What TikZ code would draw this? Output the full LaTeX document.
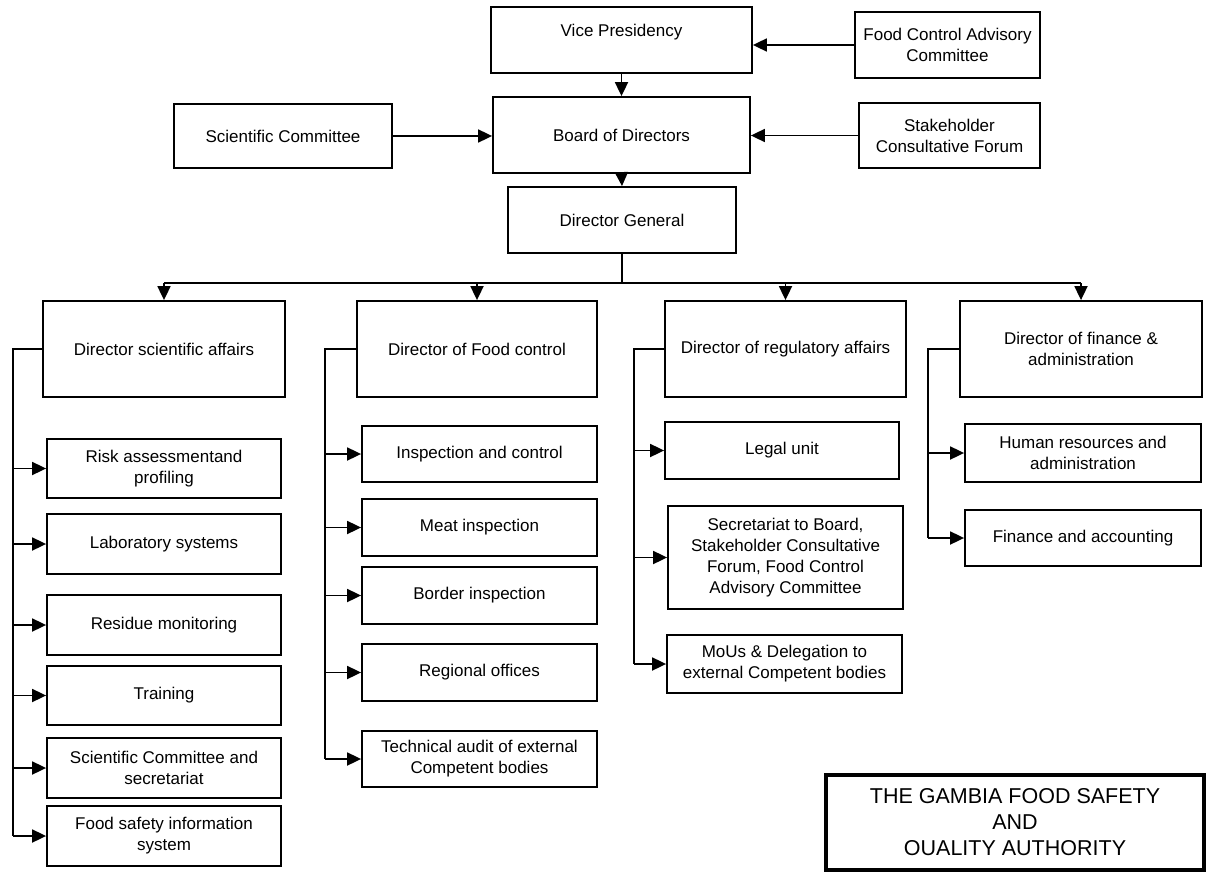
\documentclass[tikz,border=0pt]{standalone}
\usepackage{fontspec}
\setmainfont{Liberation Sans}
\usetikzlibrary{arrows.meta}
\tikzset{
  box/.style={draw, line width=1.8pt, fill=white, align=center, inner sep=0pt,
    font=\fontsize{17}{21}\selectfont},
  con/.style={line width=1.8pt},
  arr/.style={con, -{Triangle[length=14pt,width=13pt]}},
  titlebox/.style={draw, line width=4pt, fill=white, align=center, inner sep=0pt,
    font=\fontsize{21.5}{26}\selectfont},
}
\begin{document}
\begin{tikzpicture}[x=1pt,y=-1pt]
\useasboundingbox (0,0) rectangle (1208,872);
% top level
\node[box, minimum width=261pt, minimum height=66pt] (vp) at (621.5,40) {\raisebox{20pt}{Vice Presidency}};
\node[box, minimum width=185pt, minimum height=66pt] (fcac) at (947.5,45) {Food Control Advisory\\Committee};
\node[box, minimum width=218pt, minimum height=64pt] (sc) at (283,136) {Scientific Committee};
\node[box, minimum width=257pt, minimum height=76pt] (board) at (621.5,135) {Board of Directors};
\node[box, minimum width=181pt, minimum height=65pt] (scf) at (949.5,135.5) {Stakeholder\\Consultative Forum};
\node[box, minimum width=228pt, minimum height=66pt] (dg) at (622,220) {Director General};
% directors
\node[box, minimum width=242pt, minimum height=96pt] (dsa) at (164,349) {Director scientific affairs};
\node[box, minimum width=240pt, minimum height=96pt] (dfc) at (477,349) {Director of Food control};
\node[box, minimum width=241pt, minimum height=96pt] (dra) at (785.5,349) {Director of regulatory affairs};
\node[box, minimum width=242pt, minimum height=96pt] (dfa) at (1081,349) {Director of finance \&\\administration};
% scientific affairs units
\node[box, minimum width=234pt, minimum height=59pt] (risk) at (164,468.5) {Risk assessmentand\\profiling};
\node[box, minimum width=234pt, minimum height=60pt] (lab) at (164,544) {Laboratory systems};
\node[box, minimum width=234pt, minimum height=60pt] (res) at (164,625) {Residue monitoring};
\node[box, minimum width=234pt, minimum height=59pt] (train) at (164,695.5) {Training};
\node[box, minimum width=234pt, minimum height=60pt] (scs) at (164,768) {Scientific Committee and\\secretariat};
\node[box, minimum width=234pt, minimum height=60pt] (fsis) at (164,836) {Food safety information\\system};
% food control units
\node[box, minimum width=235pt, minimum height=56pt] (insp) at (479.5,454) {Inspection and control};
\node[box, minimum width=235pt, minimum height=57pt] (meat) at (479.5,527.5) {Meat inspection};
\node[box, minimum width=235pt, minimum height=57pt] (border) at (479.5,595.5) {Border inspection};
\node[box, minimum width=235pt, minimum height=57pt] (reg) at (479.5,672.5) {Regional offices};
\node[box, minimum width=235pt, minimum height=56pt] (tech) at (479.5,759) {Technical audit of external\\Competent bodies};
% regulatory units
\node[box, minimum width=234pt, minimum height=57pt] (legal) at (782,450.5) {Legal unit};
\node[box, minimum width=235pt, minimum height=103pt] (sec) at (785.5,557.5) {Secretariat to Board,\\Stakeholder Consultative\\Forum, Food Control\\Advisory Committee};
\node[box, minimum width=235pt, minimum height=58pt] (mou) at (784.5,664) {MoUs \& Delegation to\\external Competent bodies};
% finance units
\node[box, minimum width=236pt, minimum height=58pt] (hr) at (1083,453) {Human resources and\\administration};
\node[box, minimum width=236pt, minimum height=56pt] (fin) at (1083,538) {Finance and accounting};
% title
\node[titlebox, minimum width=378pt, minimum height=95pt] (title) at (1015,822.5) {THE GAMBIA FOOD SAFETY\\AND\\OUALITY AUTHORITY};

% top connectors
\draw[arr] (fcac.west) -- (fcac.west -| vp.east);
\draw[arr] (vp.south) -- (board.north);
\draw[arr] (sc.east) -- (sc.east -| board.west);
\draw[arr] (scf.west) -- (scf.west -| board.east);
\draw[arr] (board.south) -- (dg.north);
% bus
\coordinate (bus) at (622,283);
\draw[con] (dg.south) -- (bus);
\draw[con] (bus -| dsa.north) -- (bus -| dfa.north);
\draw[arr] (bus -| dsa.north) -- (dsa.north);
\draw[arr] (bus -| dfc.north) -- (dfc.north);
\draw[arr] (bus -| dra.north) -- (dra.north);
\draw[arr] (bus -| dfa.north) -- (dfa.north);
% spines
\coordinate (s1) at (13,349);
\coordinate (s2) at (325,349);
\coordinate (s3) at (634,349);
\coordinate (s4) at (928,349);
\draw[con] (dsa.west) -- (s1) -- (s1 |- fsis.west);
\foreach \n in {risk,lab,res,train,scs,fsis} \draw[arr] (s1 |- \n.west) -- (\n.west);
\draw[con] (dfc.west) -- (s2) -- (s2 |- tech.west);
\foreach \n in {insp,meat,border,reg,tech} \draw[arr] (s2 |- \n.west) -- (\n.west);
\draw[con] (dra.west) -- (s3) -- (s3 |- mou.west);
\foreach \n in {legal,sec,mou} \draw[arr] (s3 |- \n.west) -- (\n.west);
\draw[con] (dfa.west) -- (s4) -- (s4 |- fin.west);
\foreach \n in {hr,fin} \draw[arr] (s4 |- \n.west) -- (\n.west);
\end{tikzpicture}
\end{document}
